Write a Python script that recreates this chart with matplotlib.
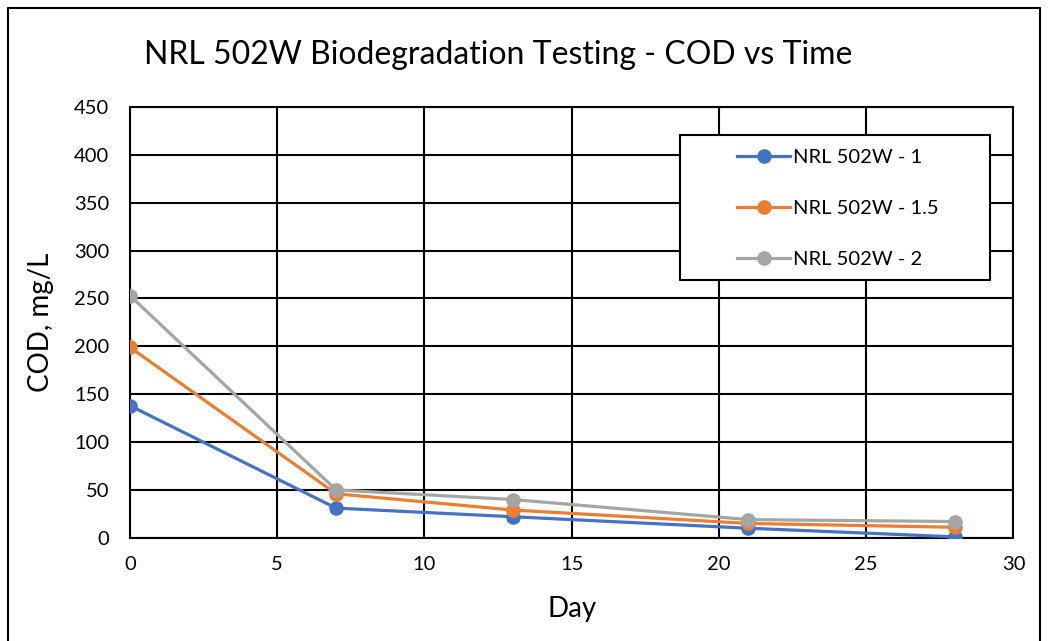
import matplotlib
matplotlib.use("Agg")
import matplotlib.pyplot as plt
from matplotlib.patches import Rectangle

# data
days = [0, 7, 13, 21, 28]
cod_1 = [138, 31, 22, 10, 1]
cod_15 = [199, 46, 29, 15, 11]
cod_2 = [253, 50, 40, 19, 17]
labels = ["NRL 502W - 1", "NRL 502W - 1.5", "NRL 502W - 2"]
colors = ["#4472C4", "#ED7D31", "#A5A5A5"]

plt.rcParams['font.family'] = ['Lato', 'DejaVu Sans']

fig = plt.figure(figsize=(10.48, 6.41), dpi=100)
ax = fig.add_axes([0.124, 0.161, 0.843, 0.672])

for y, lab, c in zip([cod_1, cod_15, cod_2], labels, colors):
    ax.plot(days, y, color=c, lw=2.3, marker="o", ms=9.5, label=lab, zorder=3)

ax.set_xlim(0, 30)
ax.set_ylim(0, 450)
ax.set_xticks(range(0, 31, 5))
ax.set_yticks(range(0, 451, 50))
ax.grid(True, color="black", lw=1.5)
for s in ax.spines.values():
    s.set_color("black")
    s.set_linewidth(1.5)
ax.tick_params(length=0, labelsize=14.5)
ax.tick_params(axis="y", pad=15)
ax.tick_params(axis="x", pad=13)

ax.set_xlabel("Day", fontsize=20, labelpad=17)
ax.set_ylabel("COD, mg/L", fontsize=20, labelpad=14)
fig.text(0.475, 0.914, "NRL 502W Biodegradation Testing - COD vs Time", fontsize=23, ha="center", va="center")

# legend box drawn by hand so the padding matches
ax.add_patch(Rectangle((0.623, 0.599), 0.351, 0.336, transform=ax.transAxes, facecolor="white",
                       edgecolor="black", lw=1.5, zorder=4))
leg = ax.legend(loc="upper left", bbox_to_anchor=(0.687, 0.903), fontsize=14.5, frameon=False,
                borderpad=0, labelspacing=1.68, handlelength=2.65, handletextpad=0.15,
                borderaxespad=0)
leg.set_zorder(5)

fig.patches.append(Rectangle((0.008, -0.01), 0.984, 0.998, transform=fig.transFigure,
                             fill=False, edgecolor="black", lw=1.5))

plt.savefig("out.png", dpi=100)
